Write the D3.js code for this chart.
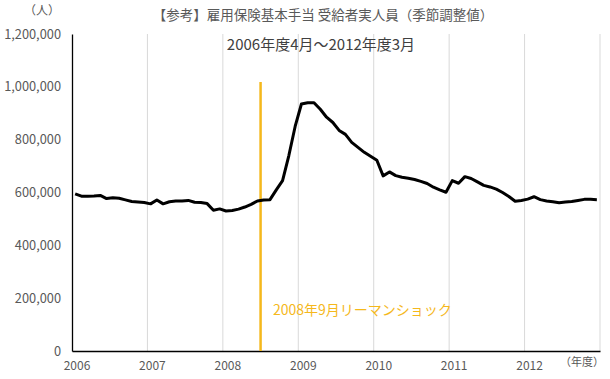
<!DOCTYPE html>
<html><head><meta charset="utf-8">
<script src="https://cdn.jsdelivr.net/npm/d3@7/dist/d3.min.js"></script>
<style>
body{margin:0;background:#fff;}
text{font-family:"Noto Sans CJK JP","Noto Sans",sans-serif;}
</style></head>
<body><svg id="c" width="610" height="379"></svg>
<script>
const title = "【参考】雇用保険基本手当 受給者実人員（季節調整値）";
const subtitle = "2006年度4月～2012年度3月";
const yUnit = "（人）";
const xUnit = "（年度）";
const eventLabel = "2008年9月リーマンショック";
const years = ["2006","2007","2008","2009","2010","2011","2012"];
const yTicks = [0,200000,400000,600000,800000,1000000,1200000];
// monthly values, April 2006 .. March 2013 (84 months)
const values = [
 595000,586000,586000,587000,589000,577000,580000,578000,572000,566000,564000,562000,
 557000,572000,557000,565000,568000,568000,570000,563000,562000,558000,533000,538000,
 530000,532000,537000,545000,555000,568000,572000,573000,610000,645000,740000,850000,
 935000,940000,940000,915000,885000,865000,835000,820000,790000,771000,752000,737000,
 722000,663000,678000,664000,658000,654000,649000,642000,634000,620000,610000,601000,
 645000,635000,660000,653000,640000,627000,621000,613000,600000,585000,567000,570000,
 575000,584000,573000,568000,565000,561000,564000,566000,570000,574000,574000,573000
];
const eventMonth = 30;

const svg = d3.select("#c");
const L=72, R=600, T=34, B=351;
const nMonths = values.length;
const x = d3.scaleLinear().domain([0, nMonths]).range([L, R]);
const y = d3.scaleLinear().domain([0,1200000]).range([B, T]);

// gridlines at years
svg.append("g").selectAll("line").data(d3.range(1, years.length+1)).join("line")
  .attr("x1", d=>x(d*12)).attr("x2", d=>x(d*12))
  .attr("y1", T).attr("y2", B)
  .attr("stroke", "#d9d9d9").attr("stroke-width", 1);

// y axis
const yAxis = d3.axisLeft(y).tickValues(yTicks).tickFormat(d3.format(",")).tickSize(0).tickPadding(11);
const gy = svg.append("g").attr("transform", `translate(${L},0)`).call(yAxis);
gy.select(".domain").attr("stroke","#000").attr("stroke-width",1.3);
gy.selectAll("text").attr("fill","#595959").style("font-size","12.8px");

// x axis
const xb = d3.scaleBand().domain(years).range([L, R]);
const xAxis = d3.axisBottom(xb).tickSize(0).tickPadding(10);
const gx = svg.append("g").attr("transform", `translate(0,${B})`).call(xAxis);
gx.select(".domain").attr("stroke","#000").attr("stroke-width",1.3);
gx.selectAll("text").attr("fill","#595959").style("font-size","12px")
  .attr("text-anchor","middle").attr("x", -xb.bandwidth()/2 + 5);

// event line
svg.append("line").attr("x1", x(eventMonth)).attr("x2", x(eventMonth))
  .attr("y1", 82).attr("y2", B).attr("stroke", "#f5b81c").attr("stroke-width", 2.5);

// data line
const line = d3.line().x((d,i)=>x(i+0.5)).y(d=>y(d));
svg.append("path").datum(values).attr("d", line)
  .attr("fill","none").attr("stroke","#000").attr("stroke-width",3).attr("stroke-linejoin","round");

// texts
svg.append("text").attr("x", 323).attr("y", 20).attr("text-anchor","middle")
  .attr("fill","#595959").style("font-size","13.5px").text(title);
svg.append("text").attr("x", 321).attr("y", 50).attr("text-anchor","middle")
  .attr("fill","#404040").style("font-size","15px").text(subtitle);
svg.append("text").attr("x", 42).attr("y", 15).attr("text-anchor","middle")
  .attr("fill","#595959").style("font-size","12px").text(yUnit);
svg.append("text").attr("x", 582).attr("y", 366).attr("text-anchor","middle")
  .attr("fill","#595959").style("font-size","11px").text(xUnit);
svg.append("text").attr("x", 273).attr("y", 315)
  .attr("fill","#f5b81c").style("font-size","14px").text(eventLabel);
</script></body></html>
